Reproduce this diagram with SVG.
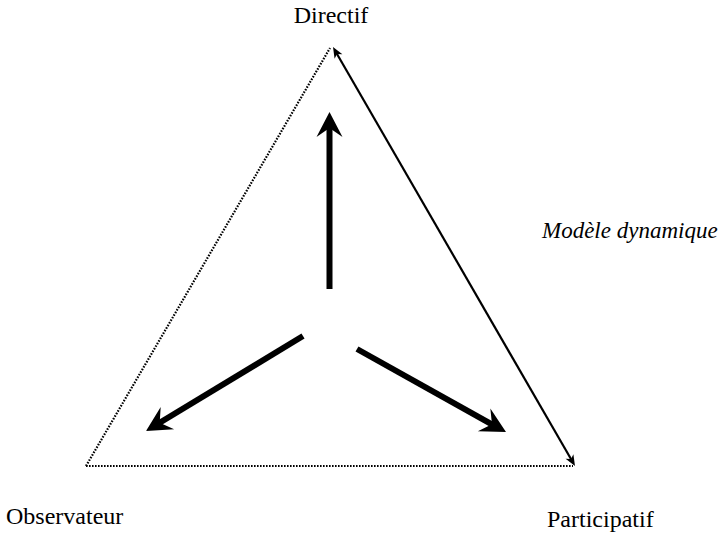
<svg xmlns="http://www.w3.org/2000/svg" width="721" height="533" viewBox="0 0 721 533">
  <defs>
    <!-- swept-back head for the thick arrows, tip at the origin pointing +x -->
    <path id="bigHead" d="M0,0 L-25,-13 L-16,0 L-25,13 Z" fill="#000"/>
    <!-- small head for the thin double arrow -->
    <path id="smallHead" d="M0,0 L-11,-4.5 L-8,0 L-11,4.5 Z" fill="#000"/>
  </defs>
  <rect width="721" height="533" fill="#fff"/>

  <g id="connectors" fill="none" stroke="#000">
    <!-- dotted sides of the triangle -->
    <path d="M86,466 L330,48" stroke-width="2.2" stroke-dasharray="1.6 1.4"/>
    <path d="M86,466 L573,466" stroke-width="2.2" stroke-dasharray="1.6 1.4"/>
    <!-- solid double-headed side -->
    <path d="M336,52.2 L572,460.8" stroke-width="2.2"/>
    <use href="#smallHead" transform="translate(333,47) rotate(-120)" stroke="none"/>
    <use href="#smallHead" transform="translate(575,466) rotate(60)" stroke="none"/>
    <!-- central arrows -->
    <path d="M329.5,289 L329.5,126" stroke-width="6"/>
    <use href="#bigHead" transform="translate(329.5,112) rotate(-90)" stroke="none"/>
    <path d="M303,336 L158,423.8" stroke-width="6"/>
    <use href="#bigHead" transform="translate(146,431) rotate(148.9)" stroke="none"/>
    <path d="M357,349 L493.7,425.3" stroke-width="6"/>
    <use href="#bigHead" transform="translate(506,432) rotate(28.8)" stroke="none"/>
  </g>

  <g id="node-directif">
    <text x="331" y="23" text-anchor="middle" font-family="'Liberation Serif', 'Times New Roman', serif" font-size="24" fill="#000">Directif</text>
  </g>
  <g id="node-observateur">
    <text x="6" y="524" font-family="'Liberation Serif', 'Times New Roman', serif" font-size="24" fill="#000">Observateur</text>
  </g>
  <g id="node-participatif">
    <text x="547" y="527" font-family="'Liberation Serif', 'Times New Roman', serif" font-size="24" fill="#000">Participatif</text>
  </g>
  <g id="label-modele">
    <text x="542" y="238" font-family="'Liberation Serif', 'Times New Roman', serif" font-size="23" font-style="italic" fill="#000">Modèle dynamique</text>
  </g>
</svg>
